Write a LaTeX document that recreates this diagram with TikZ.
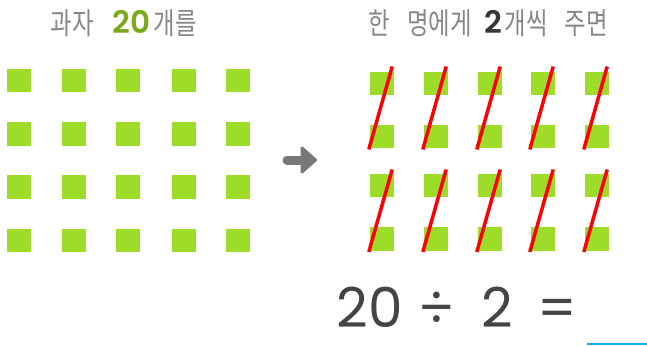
\documentclass[tikz,border=0pt]{standalone}
\usepackage{fontspec}
\newfontfamily\kr{Noto Sans CJK KR}
\newfontfamily\pop{Poppins}
\newfontfamily\popsb{Poppins SemiBold}
\usetikzlibrary{calc}
\definecolor{sqgreen}{RGB}{158,220,42}
\definecolor{txtgray}{RGB}{135,135,135}
\definecolor{numgreen}{RGB}{122,170,28}
\definecolor{darktxt}{RGB}{55,55,55}
\definecolor{eqtxt}{RGB}{68,68,68}
\definecolor{arrowgray}{RGB}{120,120,120}
\definecolor{blueline}{RGB}{20,170,240}
\tikzset{
  sq/.style={fill=sqgreen, draw=none, minimum width=24pt, minimum height=23.5pt, inner sep=0pt},
  title/.style={anchor=base, inner sep=0pt, font=\kr\fontsize{30}{34}\selectfont, text=txtgray},
  tnum/.style={anchor=base, inner sep=0pt, font=\popsb\fontsize{31}{34}\selectfont},
  eq/.style={anchor=base, inner sep=0pt, font=\pop\fontsize{55}{60}\selectfont, text=eqtxt},
  slash/.style={draw=red, line width=3.5pt},
}
\newcommand{\narrow}[1]{\scalebox{0.78}[1]{#1}}
\begin{document}
\begin{tikzpicture}[x=1pt,y=-1pt]
\useasboundingbox (0,0) rectangle (647,345);
% titles
\node[title] (t1a) at (72,35) {\narrow{과자}};
\node[tnum, text=numgreen] (t1b) at (131.7,33.5) {20};
\node[title] (t1c) at (175.5,35) {\narrow{개를}};
\node[title] (t2a) at (379,35) {\narrow{한}};
\node[title] (t2b) at (439.5,35) {\narrow{명에게}};
\node[tnum, text=darktxt] (t2c) at (493,33.5) {2};
\node[title] (t2d) at (526,35) {\narrow{개씩}};
\node[title] (t2e) at (586,35) {\narrow{주면}};
% left squares
\foreach \x [count=\i] in {19,73.5,128,183.5,238}{
  \foreach \y [count=\j] in {80.5,134,187,240.5}{
    \node[sq] (L-\j-\i) at (\x,\y) {};
  }
}
% right squares
\foreach \x [count=\i] in {382,436,490,543,597}{
  \foreach \y [count=\j] in {83.5,136.5,185.5,239}{
    \node[sq] (R-\j-\i) at (\x,\y) {};
  }
}
% red slashes
\foreach \i in {1,...,5}{
  \draw[slash] ($(R-2-\i.south west)+(-1,1)$) -- ($(R-1-\i.north east)+(-2,-5)$);
  \draw[slash] ($(R-4-\i.south west)+(-1,1)$) -- ($(R-3-\i.north east)+(-2,-4)$);
}
% arrow
\draw[arrowgray, line width=9pt, line cap=round] (287,160) -- (306,160);
\filldraw[arrowgray, line width=3pt, line join=round] (302,148) -- (315.5,160) -- (302,172) -- cycle;
% equation
\node[eq] (e1) at (370,327) {20};
\node[eq] (e2) at (436.5,327) {÷};
\node[eq] (e3) at (497,327) {2};
\node[eq] (e4) at (557.5,327) {=};
\draw[blueline, line width=2pt] (587,344) -- (647,344);
\end{tikzpicture}
\end{document}
